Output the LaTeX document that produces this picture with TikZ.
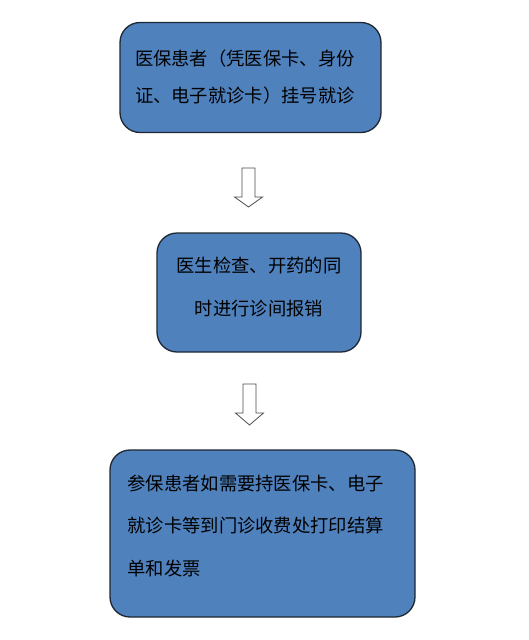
\documentclass[tikz,border=0pt]{standalone}
\usepackage{fontspec}
\newfontfamily\cjk{Noto Sans CJK SC}
\usetikzlibrary{positioning}
\definecolor{boxblue}{HTML}{4F81BD}
\definecolor{boxline}{HTML}{1E2733}

\begin{document}
\begin{tikzpicture}[x=1pt, y=-1pt,
  stepbox/.style={draw=boxline, fill=boxblue, line width=1.3pt, rounded corners=20pt, inner sep=0pt},
  hollowarr/.style={draw=black!70, fill=white, line width=0.8pt, line join=miter}]
  \useasboundingbox (0,0) rectangle (528,640);
  % three steps
  \node[stepbox, minimum width=261pt, minimum height=110pt, text width=231pt, align=left,
        font=\cjk\fontsize{18.3}{37}\selectfont] (reg) at (250.5,77.5)
        {医保患者（凭医保卡、身份\\证、电子就诊卡）挂号就诊};
  \node[stepbox, minimum width=204pt, minimum height=119pt, text width=172pt, align=center,
        text depth=56.5pt, font=\cjk\fontsize{18.3}{43}\selectfont] (exam) at (259,292.5)
        {医生检查、开药的同\\时进行诊间报销};
  \node[stepbox, minimum width=305pt, minimum height=167pt, text width=270pt, align=left,
        text depth=102pt, font=\cjk\fontsize{18.3}{42.5}\selectfont] (pay) at (262.5,533.5)
        {参保患者如需要持医保卡、电子\\就诊卡等到门诊收费处打印结算\\单和发票};
  % hollow arrows
  \coordinate (a1) at (248.5,168);
  \coordinate (a2) at (249.5,384);
  \foreach \a/\h in {a1/10, a2/12}{
    \draw[hollowarr] (\a) ++(-6.5,0) -- ++(0,29) -- ++(-7.5,0) -- ++(14,\h)
      -- ++(14,-\h) -- ++(-7.5,0) -- ++(0,-29) -- cycle;}
\end{tikzpicture}
\end{document}
